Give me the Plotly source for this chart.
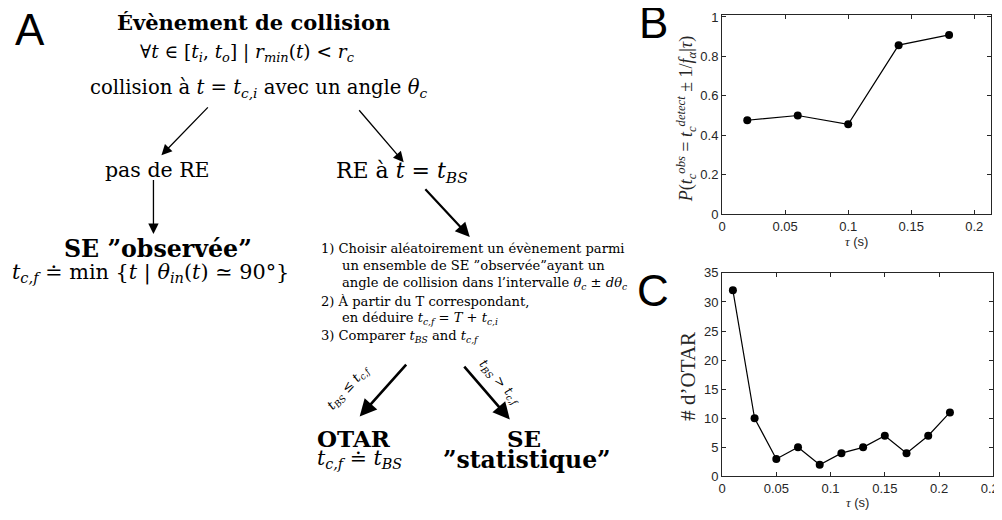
import plotly.graph_objects as go

# ---------------- data ----------------
tau_B = [0.02, 0.06, 0.10, 0.14, 0.18]
prob_B = [0.476, 0.500, 0.455, 0.857, 0.909]

tau_C = [0.01, 0.03, 0.05, 0.07, 0.09, 0.11, 0.13, 0.15, 0.17, 0.19, 0.21]
otar_C = [32, 10, 3, 5, 2, 4, 5, 7, 4, 7, 11]

B_xticks = [0, 0.05, 0.1, 0.15, 0.2]
B_xticklabels = ["0", "0.05", "0.1", "0.15", "0.2"]
B_yticks = [0, 0.2, 0.4, 0.6, 0.8, 1]
B_yticklabels = ["0", "0.2", "0.4", "0.6", "0.8", "1"]
C_xticks = [0, 0.05, 0.1, 0.15, 0.2, 0.25]
C_xticklabels = ["0", "0.05", "0.1", "0.15", "0.2", "0.25"]
C_yticks = [0, 5, 10, 15, 20, 25, 30, 35]

# page geometry (target positions are given in screenshot pixels)
OFFX, SX = 10.7, 0.982
OFFY, SY = 12.5, 0.973
W, H = 1002, 512
SERIF = "DejaVu Serif"
SANS = "Liberation Sans"
AX = "#262626"


def X(p):
    return min(1.0, max(0.0, ((p - OFFX) / SX) / W))


def Y(p):
    return min(1.0, max(0.0, 1 - ((p - OFFY) / SY) / H))


fig = go.Figure()

fig.add_trace(go.Scatter(x=tau_B, y=prob_B, mode="lines+markers",
                         line=dict(color="black", width=1.2),
                         marker=dict(color="black", size=8),
                         xaxis="x", yaxis="y", showlegend=False, hoverinfo="skip"))
fig.add_trace(go.Scatter(x=tau_C, y=otar_C, mode="lines+markers",
                         line=dict(color="black", width=1.2),
                         marker=dict(color="black", size=8),
                         xaxis="x2", yaxis="y2", showlegend=False, hoverinfo="skip"))

axis_common = dict(showline=True, linecolor=AX, linewidth=1, mirror="ticks",
                   ticks="inside", ticklen=4, tickcolor=AX, showgrid=False,
                   zeroline=False, tickfont=dict(family=SANS, size=13, color=AX))

tau_title = '<span style="font-family:%s"><i>τ</i></span> (s)' % "Liberation Serif"

# B: 0 at y=212 px, 1 near the top of the frame
B_frame_top = OFFY
B_top = max(1.01, (212 - B_frame_top) / (212 - 11))

fig.update_layout(
    width=W, height=H,
    margin=dict(l=0, r=0, t=0, b=0),
    paper_bgcolor="white", plot_bgcolor="white",
    xaxis=dict(domain=[X(720), X(989)], range=[0, 0.2135], anchor="y",
               tickvals=B_xticks, ticktext=B_xticklabels,
               title=dict(text=tau_title, font=dict(family=SANS, size=13, color=AX), standoff=2),
               **axis_common),
    yaxis=dict(domain=[Y(212), Y(B_frame_top)], range=[0, B_top], anchor="x",
               tickvals=B_yticks, ticktext=B_yticklabels,
               **axis_common),
    xaxis2=dict(domain=[X(720), X(991)], range=[0, 0.25], anchor="y2",
                tickvals=C_xticks, ticktext=C_xticklabels, ticklabeloverflow="allow",
                title=dict(text=tau_title, font=dict(family=SANS, size=13, color=AX), standoff=2),
                **axis_common),
    yaxis2=dict(domain=[Y(475), Y(271)], range=[0, 35], anchor="x2",
                tickvals=C_yticks,
                **axis_common),
)

ann = []


def text(x, y, s, size, anchor="center", angle=0, family=SERIF, color="black"):
    ann.append(dict(x=X(x), y=Y(y), xref="paper", yref="paper", text=s, showarrow=False,
                    xanchor=anchor, yanchor="middle", textangle=angle, borderpad=0,
                    font=dict(family=family, size=size, color=color)))


def arrow(x0, y0, x1, y1, width=1.3, size=1.6):
    ann.append(dict(x=X(x1), y=Y(y1), ax=(x0 - x1) / SX, ay=(y0 - y1) / SY,
                    xref="paper", yref="paper", axref="pixel", ayref="pixel",
                    text="", showarrow=True, arrowhead=2, arrowwidth=width, arrowsize=size,
                    arrowcolor="black", standoff=0, startstandoff=0))


# y-axis titles
text(684, 117, "<i>P</i>(<i>t<sub>c</sub><sup>obs</sup></i> = <i>t<sub>c</sub><sup>detect</sup></i> ± 1/<i>f<sub>α</sub></i>|<i>τ</i>)",
     18, angle=-90, family="Liberation Serif", color=AX)
text(686, 375, "# d’OTAR", 21, angle=-90, family="Liberation Serif", color=AX)

# panel letters
text(29, 27, "A", 44, family=SANS)
text(652, 20, "B", 44, family=SANS)
text(651, 289, "C", 44, family=SANS)

# diagram text
text(252, 20, "<b>Évènement de collision</b>", 21)
text(245, 51, "∀<i>t</i> ∈ [<i>t<sub>i</sub></i>, <i>t<sub>o</sub></i>] | <i>r<sub>min</sub></i>(<i>t</i>) &lt; <i>r<sub>c</sub></i>", 18.5)
text(257, 86, "collision à <i>t</i> = <i>t<sub>c,i</sub></i> avec un angle <i>θ<sub>c</sub></i>", 19.6)

text(156, 168, "pas de RE", 20.5)
text(400, 170, "RE à <i>t</i> = <i>t<sub>BS</sub></i>", 22)

text(157, 247, "<b>SE ”observée”</b>", 23.7)
text(149, 271, "<i>t<sub>c,f</sub></i> ≐ min {<i>t</i> | <i>θ<sub>in</sub></i>(<i>t</i>) ≃ 90°}", 20.8)

BS = 13.1
text(318, 247, "1) Choisir aléatoirement un évènement parmi", BS, anchor="left")
text(339, 264, "un ensemble de SE ”observée”ayant un", BS, anchor="left")
text(339, 282, "angle de collision dans l’intervalle <i>θ<sub>c</sub></i> ± <i>dθ<sub>c</sub></i>", BS, anchor="left")
text(318, 300, "2) À partir du T correspondant,", BS, anchor="left")
text(339, 317, "en déduire <i>t<sub>c,f</sub></i> = <i>T</i> + <i>t<sub>c,i</sub></i>", BS, anchor="left")
text(318, 335, "3) Comparer <i>t<sub>BS</sub></i> and <i>t<sub>c,f</sub></i>", BS, anchor="left")

text(347, 386, "<i>t<sub>BS</sub></i> ≤ <i>t<sub>c,f</sub></i>", 13, angle=-48)
text(498, 381, "<i>t<sub>BS</sub></i> &gt; <i>t<sub>c,f</sub></i>", 13, angle=48)

text(352, 437, "<b>OTAR</b>", 23)
text(358, 458, "<i>t<sub>c,f</sub></i> ≐ <i>t<sub>BS</sub></i>", 20.5)
text(522, 437, "<b>SE</b>", 23)
text(525, 459, "<b>”statistique”</b>", 23.5)

# arrows
arrow(207, 105, 160, 153)
arrow(357, 108, 402, 160)
arrow(152, 178, 152, 232)
arrow(423, 187, 468, 235, width=2.2, size=1.3)
arrow(405, 363, 358, 415, width=2.6, size=1.3)
arrow(462, 365, 508, 418, width=2.6, size=1.3)

fig.update_layout(annotations=ann)

fig.write_html("out.html")
